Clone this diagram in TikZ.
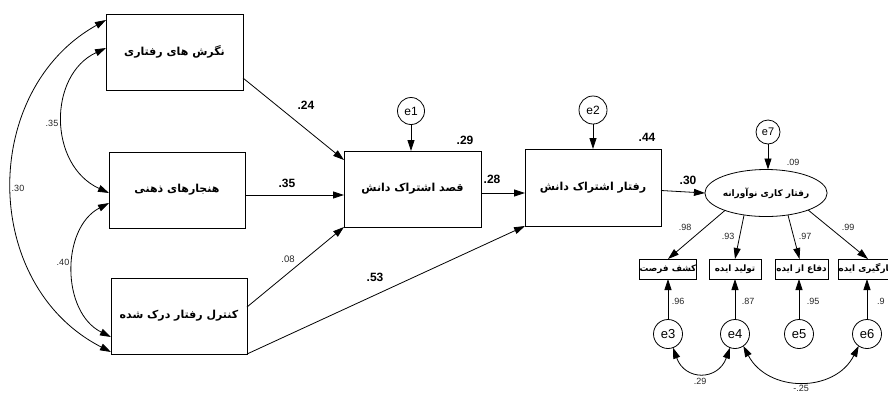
\documentclass[tikz,border=0pt]{standalone}
\usepackage{fontspec}
\setmainfont{Liberation Sans}
\newfontfamily\fa[Script=Arabic]{DejaVu Sans}
\TeXXeTstate=1
\usetikzlibrary{arrows.meta,shapes.geometric,calc}
\tikzset{
  every node/.style={inner sep=0pt, outer sep=0pt},
  bigbox/.style={draw, line width=0.8pt, minimum width=137pt, minimum height=76pt, font=\fa\bfseries\fontsize{11}{12}\selectfont},
  indbox/.style={draw, line width=1pt, minimum width=52pt, minimum height=20pt, font=\fa\bfseries\fontsize{8.8}{9}\selectfont},
  latent/.style={draw, ellipse, line width=0.8pt, minimum width=103pt, minimum height=47pt, font=\fa\bfseries\fontsize{9}{10}\selectfont},
  errc/.style={draw, circle, line width=0.8pt, minimum size=#1},
  tip/.tip={Triangle[length=11pt,width=7pt]},
  path/.style={line width=0.8pt, -tip},
  cov/.style={line width=0.8pt, tip-tip},
  bignum/.style={font=\bfseries\fontsize{12}{12}\selectfont},
  smallnum/.style={font=\fontsize{9}{9}\selectfont, text=black!85},
}
\begin{document}
\begin{tikzpicture}[x=1pt,y=-1pt]
\useasboundingbox (0,0) rectangle (888,392);
% boxes
\node[bigbox] (A) at (174.5,52) {\beginR نگرش های رفتاری\endR};
\node[bigbox, minimum width=136pt] (B) at (177,190) {\beginR هنجارهای ذهنی\endR};
\node[bigbox, minimum width=136pt] (C) at (179,316) {\beginR کنترل رفتار درک شده\endR};
\node[bigbox] (D) at (412.5,189) {\beginR قصد اشتراک دانش\endR};
\node[bigbox, minimum width=136pt, minimum height=77pt] (E) at (593,187.5) {\beginR رفتار اشتراک دانش\endR};
\node[latent] (F) at (766,193) {\beginR رفتار کاری نوآورانه\endR};
\node[indbox] (I1) at (668,269) {\beginR کشف فرصت\endR};
\node[indbox] (I2) at (735,269) {\beginR تولید ایده\endR};
\node[indbox, minimum width=53pt] (I3) at (801.5,269) {\beginR دفاع از ایده\endR};
\node[indbox] (I4) at (868,269) {\beginR بکارگیری ایده\endR};
% error terms
\node[errc=27pt, font=\fontsize{12}{12}\selectfont] (e1) at (411,111) {e1};
\node[errc=28pt, font=\fontsize{12}{12}\selectfont] (e2) at (593,110) {e2};
\node[errc=24pt, font=\fontsize{11}{11}\selectfont] (e7) at (768,132) {e7};
\node[errc=29pt, font=\fontsize{13}{13}\selectfont] (e3) at (668,334) {e3};
\node[errc=29pt, font=\fontsize{13}{13}\selectfont] (e4) at (735,334) {e4};
\node[errc=29pt, font=\fontsize{13}{13}\selectfont] (e5) at (799,334) {e5};
\node[errc=29pt, font=\fontsize{13}{13}\selectfont] (e6) at (867,334) {e6};
% structural paths
\draw[path] ([yshift=-26pt]A.east) -- ([yshift=-9pt]D.north west);
\draw[path] ([yshift=-5pt]B.east) -- ([yshift=-5pt]B.east -| D.west);
\draw[path] ([yshift=9pt]C.east) -- (D.south west);
\draw[path] (C.south east) -- (E.south west);
\draw[path] ([yshift=-4pt]D.east) -- ([yshift=-4pt]D.east -| E.west);
\draw[path] ([yshift=-3pt]E.east) -- (F.west);
\draw[path] (e1.south) -- (e1 |- D.north);
\draw[path] (e2.south) -- (e2 |- E.north);
\draw[path] (e7.south) -- (e7 |- F.north);
% measurement paths
\draw[path] (F.203) -- (I1.north);
\draw[path] (F.225) -- (I2.north);
\draw[path] (F.315) -- ([xshift=-2pt]I3.north);
\draw[path] (F.338) -- (I4.north);
\draw[path] (e3.north) -- (e3 |- I1.south);
\draw[path] (e4.north) -- (e4 |- I2.south);
\draw[path] (e5.north) -- (e5 |- I3.south);
\draw[path] (e6.north) -- (e6 |- I4.south);
% covariances
\draw[cov] ([yshift=-6pt]A.north west) .. controls (-20,90) and (-20,285) .. ([yshift=2pt]C.south west);
\draw[cov] ([yshift=4pt]A.west) .. controls (48,75) and (48,165) .. ([yshift=-3pt]B.west);
\draw[cov] ([yshift=-13pt]B.west) .. controls (61,228) and (61,312) .. ([yshift=-21pt]C.west);
\draw[cov] (e3.-70) .. controls (685,381) and (718,381) .. (e4.-110);
\draw[cov] (e4.-55) .. controls (768,393) and (835,393) .. (e6.-125);
% labels
\node[bignum] (l24) at (306,105) {.24};
\node[bignum] (l35) at (287,183) {.35};
\node[bignum] (l28) at (492,179) {.28};
\node[bignum] (l30) at (688,180) {.30};
\node[bignum] (l53) at (375,277) {.53};
\node[bignum] (l29) at (465,140) {.29};
\node[bignum] (l44) at (647,137) {.44};
\node[smallnum, font=\fontsize{9.5}{9.5}\selectfont] (l08) at (288,259) {.08};
\node[smallnum] (c35) at (52,123) {.35};
\node[smallnum] (c40) at (63,262) {.40};
\node[smallnum] (c30) at (18,188) {.30};
\node[smallnum] (l09) at (793,162) {.09};
\node[smallnum] (l98) at (685,227) {.98};
\node[smallnum] (l93) at (728,236) {.93};
\node[smallnum] (l97) at (805,236) {.97};
\node[smallnum] (l99) at (848,227) {.99};
\node[smallnum] (l96) at (678,301) {.96};
\node[smallnum] (l87) at (748,301) {.87};
\node[smallnum] (l95) at (813,301) {.95};
\node[smallnum, anchor=west] (l9x) at (877,301) {.9};
\node[smallnum] (c29) at (700,381) {.29};
\node[smallnum] (c25) at (801,388) {-.25};
\end{tikzpicture}
\end{document}
